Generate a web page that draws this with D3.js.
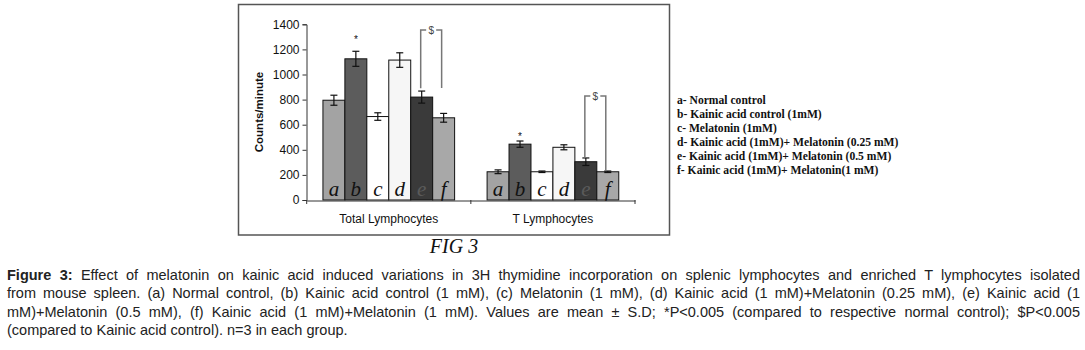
<!DOCTYPE html>
<html>
<head>
<meta charset="utf-8">
<script src="https://cdn.jsdelivr.net/npm/d3@7"></script>
<style>
    body { margin: 0; background: #fff; }
    #page { position: relative; width: 1085px; height: 350px; overflow: hidden; }
    #chart { position: absolute; left: 0; top: 0; }
    .caption {
        position: absolute; left: 7px; width: 1073px;
        font-family: Arial, "Liberation Sans", sans-serif; font-size: 14.5px; color: #222;
    }
    .caption div { height: 18.3px; line-height: 18.3px; text-align: justify; text-align-last: justify; white-space: nowrap; }
    .caption div.last { text-align-last: left; }
</style>
</head>
<body>
<div id="page">
    <div id="chart"></div>
    <div class="caption" id="caption"></div>
</div>
<script>
// data
const categories = ["Total Lymphocytes", "T Lymphocytes"];
const groups = ["a", "b", "c", "d", "e", "f"];
const totalMeans = [795, 1125, 665, 1115, 820, 655];
const totalErrors = [40, 60, 30, 58, 48, 35];
const tMeans = [225, 445, 225, 420, 305, 225];
const tErrors = [15, 25, 6, 20, 30, 6];
const yTicks = [0, 200, 400, 600, 800, 1000, 1200, 1400];
const legendLabels = [
    "a- Normal control",
    "b- Kainic acid control (1mM)",
    "c- Melatonin (1mM)",
    "d- Kainic acid (1mM)+ Melatonin (0.25 mM)",
    "e- Kainic acid (1mM)+ Melatonin (0.5 mM)",
    "f- Kainic acid (1mM)+ Melatonin(1 mM)"
];
// significance marks
const stars = [{cat: "Total Lymphocytes", grp: "b", value: 1250}, {cat: "T Lymphocytes", grp: "b", value: 480}];
const brackets = [
    {cat: "Total Lymphocytes", from: "e", to: "f", top: 1354, leftEnd: 890, rightEnd: 892},
    {cat: "T Lymphocytes", from: "e", to: "f", top: 828, leftEnd: 338, rightEnd: 237}
];
const captionLines = [
    "<b>Figure 3:</b> Effect of melatonin on kainic acid induced variations in 3H thymidine incorporation on splenic lymphocytes and enriched T lymphocytes isolated",
    "from mouse spleen. (a) Normal control, (b) Kainic acid control (1 mM), (c) Melatonin (1 mM), (d) Kainic acid (1 mM)+Melatonin (0.25 mM), (e) Kainic acid (1",
    "mM)+Melatonin (0.5 mM), (f) Kainic acid (1 mM)+Melatonin (1 mM). Values are mean ± S.D; *P&lt;0.005 (compared to respective normal control); $P&lt;0.005",
    "(compared to Kainic acid control). n=3 in each group."
];

const barColors = ["#a3a3a3", "#5c5c5c", "#ffffff", "#f6f6f6", "#3a3a3a", "#a8a8a8"];

let data = [];
categories.forEach((c, ci) => {
    const means = ci === 0 ? totalMeans : tMeans;
    const errs = ci === 0 ? totalErrors : tErrors;
    groups.forEach((g, gi) => data.push({cat: c, grp: g, value: means[gi], err: errs[gi]}));
});

const W = 1085, H = 350;
const svg = d3.select("#chart").append("svg")
    .attr("width", W)
    .attr("height", H);

// frame round the chart
svg.append("rect")
    .attr("x", 238.5).attr("y", 4.5)
    .attr("width", 431).attr("height", 230.5)
    .attr("fill", "none")
    .attr("stroke", "#555")
    .attr("stroke-width", 1.5);

// scales
const y = d3.scaleLinear().domain([0, 1400]).range([200, 24.3]);
const x0 = d3.scaleBand().domain(categories).range([306.7, 635]).padding(0);
const x1 = d3.scaleBand().domain(groups).range([0, x0.bandwidth()]).paddingInner(0).paddingOuter(0.74);
const color = d3.scaleOrdinal().domain(groups).range(barColors);
const cx = (cat, grp) => x0(cat) + x1(grp) + x1.bandwidth() / 2;

// y axis
const yAxis = svg.append("g")
    .attr("transform", "translate(306.5,0)")
    .call(d3.axisLeft(y).tickValues(yTicks).tickSize(4).tickPadding(3).tickFormat(d3.format("d")));
yAxis.select(".domain").attr("stroke", "#333");
yAxis.selectAll(".tick line").attr("stroke", "#333");
yAxis.selectAll("text")
    .attr("font-family", "Arial, 'Liberation Sans', sans-serif")
    .attr("font-size", 12)
    .attr("fill", "#111");

// y label
svg.append("text")
    .attr("transform", "translate(263,112) rotate(-90)")
    .attr("text-anchor", "middle")
    .attr("font-family", "Arial, 'Liberation Sans', sans-serif")
    .attr("font-size", 11.5)
    .attr("font-weight", "bold")
    .attr("fill", "#111")
    .text("Counts/minute");

// bars
const barG = svg.append("g");
barG.selectAll("rect")
    .data(data)
    .enter().append("rect")
    .attr("x", d => x0(d.cat) + x1(d.grp))
    .attr("y", d => y(d.value))
    .attr("width", x1.bandwidth())
    .attr("height", d => y(0) - y(d.value))
    .attr("fill", d => color(d.grp))
    .attr("stroke", "#111")
    .attr("stroke-width", 1);

// letters in bars
barG.selectAll("text")
    .data(data)
    .enter().append("text")
    .attr("x", d => cx(d.cat, d.grp))
    .attr("y", 195.5)
    .attr("text-anchor", "middle")
    .attr("font-family", "'Liberation Serif', 'Times New Roman', serif")
    .attr("font-style", "italic")
    .attr("font-size", 21)
    .attr("fill", d => d.grp === "e" ? "#5a5a5a" : "#111")
    .text(d => d.grp);

// error bars
const errG = svg.append("g").attr("stroke", "#111").attr("stroke-width", 1.2);
data.forEach(d => {
    const xc = cx(d.cat, d.grp);
    errG.append("line").attr("x1", xc).attr("x2", xc).attr("y1", y(d.value - d.err)).attr("y2", y(d.value + d.err));
    errG.append("line").attr("x1", xc - 3.5).attr("x2", xc + 3.5).attr("y1", y(d.value + d.err)).attr("y2", y(d.value + d.err));
    errG.append("line").attr("x1", xc - 3.5).attr("x2", xc + 3.5).attr("y1", y(d.value - d.err)).attr("y2", y(d.value - d.err));
});

// x axis
const xAxis = svg.append("g")
    .attr("transform", "translate(0,200.5)")
    .call(d3.axisBottom(x0).tickSize(0).tickPadding(14));
xAxis.select(".domain").attr("stroke", "#333");
xAxis.selectAll("text")
    .attr("font-family", "Arial, 'Liberation Sans', sans-serif")
    .attr("font-size", 12)
    .attr("fill", "#111");
// category boundary ticks
svg.append("g").selectAll("line")
    .data([x0.range()[0], x0(categories[1]), x0.range()[1]])
    .enter().append("line")
    .attr("x1", d => d).attr("x2", d => d)
    .attr("y1", 200).attr("y2", 204)
    .attr("stroke", "#333");

// stars
svg.append("g").selectAll("text")
    .data(stars)
    .enter().append("text")
    .attr("x", d => cx(d.cat, d.grp))
    .attr("y", d => y(d.value))
    .attr("text-anchor", "middle")
    .attr("font-family", "Arial, sans-serif")
    .attr("font-size", 10)
    .attr("fill", "#111")
    .text("*");

// $ brackets
const brG = svg.append("g");
brackets.forEach(b => {
    const xl = cx(b.cat, b.from) - 1, xr = cx(b.cat, b.to) - 2;
    const xm = (xl + xr) / 2;
    const yt = y(b.top);
    brG.append("path")
        .attr("d", `M${xl},${y(b.leftEnd)}V${yt}H${xm - 5}M${xm + 5},${yt}H${xr}V${y(b.rightEnd)}`)
        .attr("fill", "none")
        .attr("stroke", "#777")
        .attr("stroke-width", 1.5);
    brG.append("text")
        .attr("x", xm).attr("y", yt + 3.5)
        .attr("text-anchor", "middle")
        .attr("font-family", "Arial, sans-serif")
        .attr("font-size", 10)
        .attr("fill", "#444")
        .text("$");
});

// legend (outside the frame)
svg.append("g").selectAll("text")
    .data(legendLabels)
    .enter().append("text")
    .attr("x", 677)
    .attr("y", (d, i) => 104 + i * 14)
    .attr("font-family", "'Liberation Serif', 'Times New Roman', serif")
    .attr("font-weight", "bold")
    .attr("font-size", 11.6)
    .attr("fill", "#111")
    .text(d => d);

// figure label
svg.append("text")
    .attr("x", 454).attr("y", 253)
    .attr("text-anchor", "middle")
    .attr("font-family", "'Liberation Serif', 'Times New Roman', serif")
    .attr("font-style", "italic")
    .attr("font-size", 20)
    .attr("fill", "#111")
    .text("FIG 3");

// caption
d3.select("#caption")
    .style("top", "266px")
    .selectAll("div")
    .data(captionLines)
    .enter().append("div")
    .attr("class", (d, i) => i === captionLines.length - 1 ? "last" : null)
    .html(d => d);
</script>
</body>
</html>
